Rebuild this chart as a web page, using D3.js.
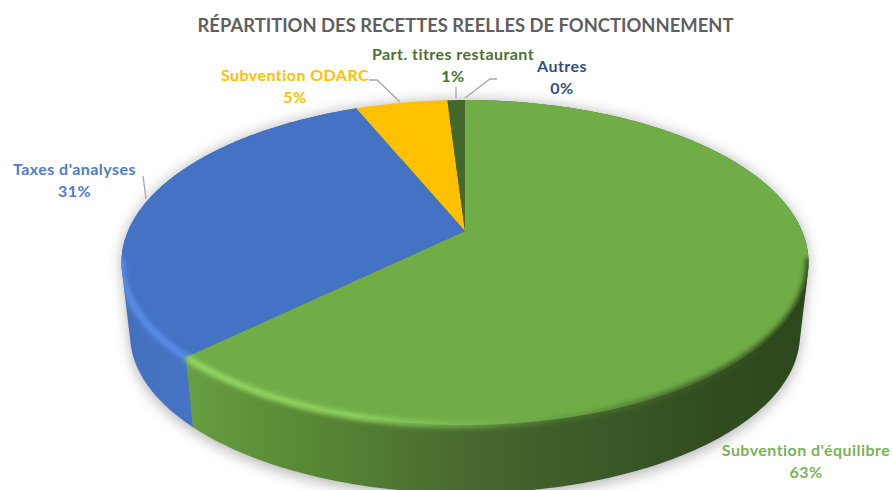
<!DOCTYPE html>
<html>
<head>
<meta charset="utf-8">
<script src="https://cdn.jsdelivr.net/npm/d3@7"></script>
<style>
  html, body { margin: 0; padding: 0; background: #fff; overflow: hidden; }
  text { font-family: Lato, "Open Sans", sans-serif; font-weight: 700; }
</style>
</head>
<body>
<svg width="893" height="490"></svg>
<script>
let categories = ["Subvention d'équilibre", "Taxes d'analyses", "Subvention ODARC", "Part. titres restaurant", "Autres"];
let values = [62.7, 31.1, 5.2, 1, 0];
let colors = ["#70ad47", "#4472c4", "#ffc000", "#43682b", "#264478"];
let labelColors = ["#7ab356", "#4f7cc9", "#ffc000", "#4a7230", "#2f4f85"];
let title = "RÉPARTITION DES RECETTES REELLES DE FONCTIONNEMENT";

// layout of the labels, name centre + leader line
let labelBoxes = [
  { x: 806, y: 456 },
  { x: 74.5, y: 175 },
  { x: 295, y: 81 },
  { x: 453, y: 60 },
  { x: 562, y: 72 }
];
let leaders = [
  [],
  [[143, 176], [146, 199]],
  [[369, 80], [377, 80], [400, 102]],
  [[456, 87], [456, 98]],
  [[465, 98], [490, 79], [497, 79]]
];

let svg = d3.select("svg");
let color = d3.scaleOrdinal().domain(categories).range(colors);
let labelColor = d3.scaleOrdinal().domain(categories).range(labelColors);
let format = d3.format(".0%");
let total = d3.sum(values);

// tilted disc, with perspective so the apex sits above the ellipse centre
let k = 0.194;
let radiusX = 337;
let radiusY = 156.4;
let centerX = 465;
let topY = 231;
let depth = 73;
let shrink = 0.975;

function project(angle, level) {
  let u = Math.sin(angle);
  let v = Math.cos(angle);
  let w = 1 + k * v;
  let s = level ? shrink : 1;
  return [
    centerX + (radiusX * s * u) / w,
    topY + level * depth - (radiusY * s * v) / w
  ];
}

let pie = d3.pie().sort(null).value((d, i) => values[i]);
let slices = pie(categories);
let line = d3.line();

function arcPoints(a0, a1, level) {
  let n = Math.max(2, Math.ceil(Math.abs(a1 - a0) * 60));
  return d3.range(n + 1).map((i) => project(a0 + ((a1 - a0) * i) / n, level));
}

let defs = svg.append("defs");

function gradient(id, stops, x1, x2) {
  let g = defs
    .append("linearGradient")
    .attr("id", id)
    .attr("gradientUnits", "userSpaceOnUse")
    .attr("x1", x1)
    .attr("x2", x2)
    .attr("y1", 0)
    .attr("y2", 0);
  stops.forEach((s) => {
    g.append("stop")
      .attr("offset", s[0])
      .attr("stop-color", s[1])
      .attr("stop-opacity", s[2] === undefined ? 1 : s[2]);
  });
}

gradient("wallGreen", [
  [0, "#689f42"],
  [0.1, "#5f9239"],
  [0.25, "#558234"],
  [0.45, "#47692f"],
  [0.65, "#3b5a28"],
  [0.85, "#314d20"],
  [1, "#2d471d"]
], 186, 806);
gradient("wallBlue", [
  [0, "#4370bd"],
  [1, "#4674c4"]
], 121, 190);
gradient("rimGreen", [
  [0, "#9be06a"],
  [0.28, "#92d863"],
  [0.46, "#84c658", 0.6],
  [0.6, "#5c8a3a", 0.45],
  [0.78, "#3d5e28", 0.85],
  [1, "#2c441c"]
], 186, 808);

defs.append("filter")
  .attr("id", "shadow")
  .attr("x", "-10%").attr("y", "-10%").attr("width", "120%").attr("height", "120%")
  .append("feGaussianBlur").attr("stdDeviation", 7);
defs.append("filter")
  .attr("id", "soft")
  .attr("x", "-5%").attr("y", "-5%").attr("width", "110%").attr("height", "110%")
  .append("feGaussianBlur").attr("stdDeviation", 2.4);

let fullTurn = 2 * Math.PI;
let hull = d3.polygonHull(arcPoints(0, fullTurn, 0).concat(arcPoints(0, fullTurn, 1)));
defs.append("clipPath")
  .attr("id", "bodyClip")
  .append("path")
  .attr("d", line(hull) + "Z");

// soft shadow under the disc
svg.append("path")
  .attr("d", line(d3.polygonHull(arcPoints(0, fullTurn, 0).concat(arcPoints(0, fullTurn, 1.06)))) + "Z")
  .attr("fill", "#000")
  .attr("opacity", 0.28)
  .attr("filter", "url(#shadow)");

// side wall of the two slices that face the viewer, blue first, green on top
let wallFill = { 0: "url(#wallGreen)", 1: "url(#wallBlue)" };
svg.append("g")
  .selectAll("path")
  .data(slices.filter((d) => wallFill[d.index]).reverse())
  .join("path")
  .attr("d", (d) => {
    let top = arcPoints(d.startAngle, d.endAngle, 0);
    let bottom = arcPoints(d.startAngle, d.endAngle, 1);
    return line(d3.polygonHull(top.concat(bottom))) + "Z";
  })
  .attr("fill", (d) => wallFill[d.index]);

// top face
svg.append("g")
  .selectAll("path")
  .data(slices.filter((d) => d.value > 0))
  .join("path")
  .attr("d", (d) => line([[centerX, topY]].concat(arcPoints(d.startAngle, d.endAngle, 0))) + "Z")
  .attr("fill", (d) => color(d.data));

// bevel along the front rim, between the left and right extremes of the disc
let rim = svg.append("g").attr("clip-path", "url(#bodyClip)");
rim.append("path")
  .attr("d", line(arcPoints(1.74, slices[0].endAngle, 0)))
  .attr("fill", "none")
  .attr("stroke", "url(#rimGreen)")
  .attr("stroke-width", 6)
  .attr("filter", "url(#soft)");
rim.append("path")
  .attr("d", line(arcPoints(slices[1].startAngle, slices[1].startAngle + 0.6, 0)))
  .attr("fill", "none")
  .attr("stroke", "#5c93ee")
  .attr("stroke-width", 6)
  .attr("filter", "url(#soft)");

// leader lines
svg.append("g")
  .selectAll("path")
  .data(leaders.filter((d) => d.length))
  .join("path")
  .attr("d", (d) => line(d))
  .attr("fill", "none")
  .attr("stroke", "#a6a6a6")
  .attr("stroke-width", 1.3);

// labels
let labels = svg.append("g")
  .selectAll("text")
  .data(slices)
  .join("text")
  .attr("text-anchor", "middle")
  .attr("font-size", 16)
  .attr("letter-spacing", 0.45)
  .attr("fill", (d) => labelColor(d.data));
labels.append("tspan")
  .attr("x", (d) => labelBoxes[d.index].x)
  .attr("y", (d) => labelBoxes[d.index].y)
  .text((d) => d.data);
labels.append("tspan")
  .attr("x", (d) => labelBoxes[d.index].x)
  .attr("y", (d) => labelBoxes[d.index].y + 22)
  .text((d) => format(d.value / total));

svg.append("text")
  .attr("x", 465.5)
  .attr("y", 32)
  .attr("text-anchor", "middle")
  .attr("font-size", 18.4)
  .attr("fill", "#5f5f5f")
  .text(title);
</script>
</body>
</html>
